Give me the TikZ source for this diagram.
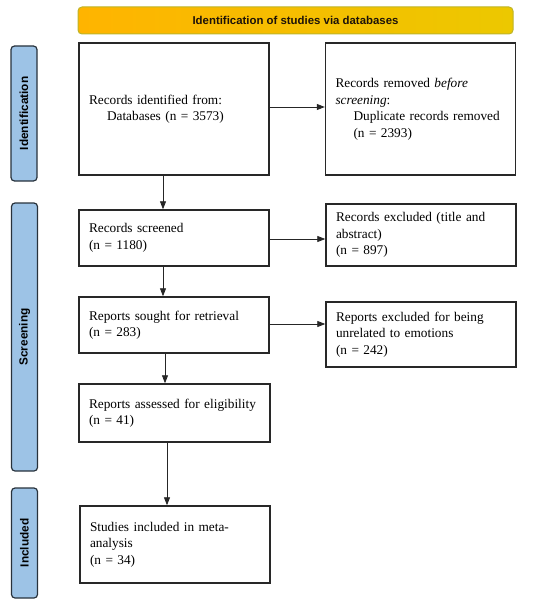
\documentclass[tikz,border=0pt]{standalone}
\usepackage{fontspec}
\setmainfont{Liberation Serif}
\setsansfont{Liberation Sans}
\usetikzlibrary{arrows.meta,shadings}
\definecolor{hdrL}{RGB}{255,180,0}
\definecolor{hdrR}{RGB}{236,200,0}
\definecolor{hdrB}{RGB}{190,180,40}
\definecolor{barF}{RGB}{157,195,230}
\definecolor{barB}{RGB}{40,50,60}
\definecolor{boxB}{RGB}{40,40,40}
\tikzset{
  flowbox/.style={draw=boxB, line width=1.4pt, fill=white, inner xsep=10pt, inner ysep=2pt,
    align=left, font=\fontsize{13.3}{16.5}\selectfont},
  sidebar/.style={draw=barB, fill=barF, line width=1.2pt, rounded corners=3.5pt, rotate=90,
    minimum height=26pt, inner sep=0pt, font=\sffamily\bfseries\fontsize{11.8}{13}\selectfont},
  hdr/.style={draw=hdrB, line width=1pt, left color=hdrL, right color=hdrR, rounded corners=4pt,
    minimum width=435pt, minimum height=27pt, inner sep=0pt,
    font=\sffamily\bfseries\fontsize{11.4}{13}\selectfont, text=black!85!brown},
  flowarrow/.style={draw=black!85, line width=0.8pt, -{Triangle[length=8pt,width=6pt]}}
}
\begin{document}
\begin{tikzpicture}[x=1pt,y=-1pt]
\useasboundingbox (0,0) rectangle (550,604);
\node[hdr] (hdr) at (295.5,20.5) {Identification of studies via databases};
\node[sidebar, minimum width=135pt] (sid) at (24,113.5) {Identification};
\node[sidebar, minimum width=268pt] (sscr) at (24.5,337) {Screening};
\node[sidebar, minimum width=110pt] (sinc) at (24.5,543) {Included};

\node[flowbox, minimum width=190pt, minimum height=132pt, text width=170pt] (ident) at (174,109)
  {Records identified from:\\\hspace*{18pt}Databases (n = 3573)\\[8pt]};
\node[flowbox, minimum width=189pt, minimum height=132pt, text width=170pt] (removed) at (420.5,109)
  {Records removed \textit{before}\\\textit{screening}:\\\hspace*{18pt}Duplicate records removed\\\hspace*{18pt}(n = 2393)};
\node[flowbox, minimum width=190pt, minimum height=56pt, text width=170pt] (screened) at (174,238)
  {Records screened\\(n = 1180)};
\node[flowbox, minimum width=190pt, minimum height=62pt, text width=170pt] (excl1) at (421,235)
  {Records excluded (title and\\abstract)\\(n = 897)};
\node[flowbox, minimum width=190pt, minimum height=56pt, text width=170pt] (sought) at (174,325)
  {Reports sought for retrieval\\(n = 283)};
\node[flowbox, minimum width=190pt, minimum height=65pt, text width=170pt] (excl2) at (421,334.5)
  {Reports excluded for being\\unrelated to emotions\\(n = 242)};
\node[flowbox, minimum width=191pt, minimum height=58pt, text width=171pt] (assessed) at (174.5,413)
  {Reports assessed for eligibility\\(n = 41)};
\node[flowbox, minimum width=190pt, minimum height=77pt, text width=170pt] (studies) at (175,544.5)
  {Studies included in meta-\\analysis\\(n = 34)};

\draw[flowarrow] ([yshift=2pt]ident.east) -- ([yshift=2pt]ident.east -| removed.west);
\draw[flowarrow] ([yshift=-1pt]screened.east) -- ([yshift=-1pt]screened.east -| excl1.west);
\draw[flowarrow] ([yshift=1pt]sought.east) -- ([yshift=1pt]sought.east -| excl2.west);
\draw[flowarrow] ([xshift=-11pt]ident.south) -- ([xshift=-11pt]ident.south |- screened.north);
\draw[flowarrow] ([xshift=-11pt]screened.south) -- ([xshift=-11pt]screened.south |- sought.north);
\draw[flowarrow] ([xshift=-9pt]sought.south) -- ([xshift=-9pt]sought.south |- assessed.north);
\draw[flowarrow] ([xshift=-7.5pt]assessed.south) -- ([xshift=-7.5pt]assessed.south |- studies.north);
\end{tikzpicture}
\end{document}
